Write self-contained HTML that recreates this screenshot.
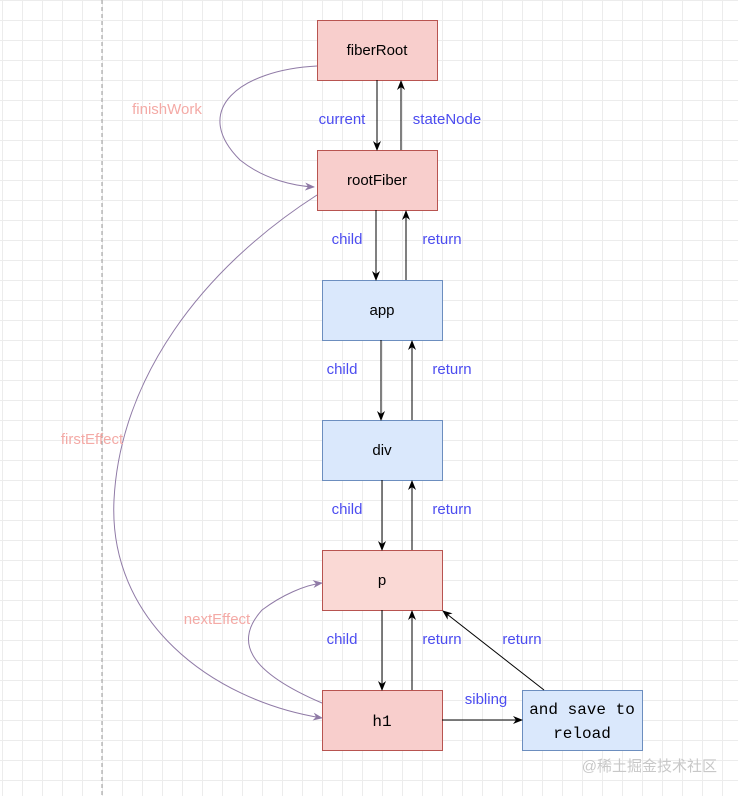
<!DOCTYPE html>
<html><head><meta charset="utf-8"><style>
body{margin:0;width:738px;height:796px;overflow:hidden;background:#fff;
background-image:linear-gradient(to right,#ececec 1px,transparent 1px),linear-gradient(to bottom,#ececec 1px,transparent 1px);
background-size:20px 20px;background-position:2px 0px;font-family:"Liberation Sans",sans-serif;}
svg{position:absolute;left:0;top:0}
</style></head><body>
<svg width="738" height="796" viewBox="0 0 738 796">
<defs>
<marker id="a" markerWidth="10" markerHeight="10" refX="9" refY="5" orient="auto" markerUnits="userSpaceOnUse"><path d="M0,1 L10,5 L0,9 L3,5z" fill="#000"/></marker>
<marker id="p" markerWidth="10" markerHeight="10" refX="9" refY="5" orient="auto" markerUnits="userSpaceOnUse"><path d="M0,1 L10,5 L0,9 L3,5z" fill="#8f7aa6"/></marker>
</defs>
<line x1="102" y1="0" x2="102" y2="796" stroke="#999" stroke-dasharray="4,3"/>
<g stroke-width="1">
<rect x="317.5" y="20.5" width="120" height="60" fill="#f8cecc" stroke="#b85450"/>
<rect x="317.5" y="150.5" width="120" height="60" fill="#f8cecc" stroke="#b85450"/>
<rect x="322.5" y="280.5" width="120" height="60" fill="#dae8fc" stroke="#6c8ebf"/>
<rect x="322.5" y="420.5" width="120" height="60" fill="#dae8fc" stroke="#6c8ebf"/>
<rect x="322.5" y="550.5" width="120" height="60" fill="#fad9d5" stroke="#b85450"/>
<rect x="322.5" y="690.5" width="120" height="60" fill="#f8cecc" stroke="#b85450"/>
<rect x="522.5" y="690.5" width="120" height="60" fill="#dae8fc" stroke="#6c8ebf"/>
</g>
<g stroke="#000" fill="none" marker-end="url(#a)">
<line x1="377" y1="80" x2="377" y2="150"/>
<line x1="401" y1="150" x2="401" y2="81"/>
<line x1="376" y1="210" x2="376" y2="280"/>
<line x1="406" y1="280" x2="406" y2="211"/>
<line x1="381" y1="340" x2="381" y2="420"/>
<line x1="412" y1="420" x2="412" y2="341"/>
<line x1="382" y1="480" x2="382" y2="550"/>
<line x1="412" y1="550" x2="412" y2="481"/>
<line x1="382" y1="610" x2="382" y2="690"/>
<line x1="412" y1="690" x2="412" y2="611"/>
<line x1="442" y1="720" x2="522" y2="720"/>
<line x1="544" y1="690" x2="443" y2="611"/>
</g>
<g stroke="#8f7aa6" fill="none" marker-end="url(#p)">
<path d="M317,66 C240,70 190,110 240,160 C265,180 295,186 314,187"/>
<path d="M317,195 C200,270 120,380 114,500 C108,620 210,700 322,718"/>
<path d="M322,703 C245,670 235,640 262,610 C282,595 305,585 322,583"/>
</g>
<g font-size="15" fill="#000" text-anchor="middle">
<text x="377" y="55">fiberRoot</text>
<text x="377" y="185">rootFiber</text>
<text x="382" y="315">app</text>
<text x="382" y="455">div</text>
<text x="382" y="585">p</text>
<text x="382" y="726" font-family="Liberation Mono,monospace" font-size="16">h1</text>
<text x="582" y="714" font-family="Liberation Mono,monospace" font-size="16">and save to</text>
<text x="582" y="738" font-family="Liberation Mono,monospace" font-size="16">reload</text>
</g>
<g font-size="15" fill="#4c4cf0" text-anchor="middle">
<text x="342" y="124">current</text>
<text x="447" y="124">stateNode</text>
<text x="347" y="244">child</text>
<text x="442" y="244">return</text>
<text x="342" y="374">child</text>
<text x="452" y="374">return</text>
<text x="347" y="514">child</text>
<text x="452" y="514">return</text>
<text x="342" y="644">child</text>
<text x="442" y="644">return</text>
<text x="522" y="644">return</text>
<text x="486" y="704">sibling</text>
</g>
<g font-size="15" fill="#f4aaa6" text-anchor="middle">
<text x="167" y="114">finishWork</text>
<text x="92" y="444">firstEffect</text>
<text x="217" y="624">nextEffect</text>
</g>
<text x="717" y="771" font-size="15" fill="#c8c8c8" text-anchor="end" font-family="Liberation Sans,Noto Sans CJK SC,sans-serif">@稀土掘金技术社区</text>
</svg>
</body></html>
